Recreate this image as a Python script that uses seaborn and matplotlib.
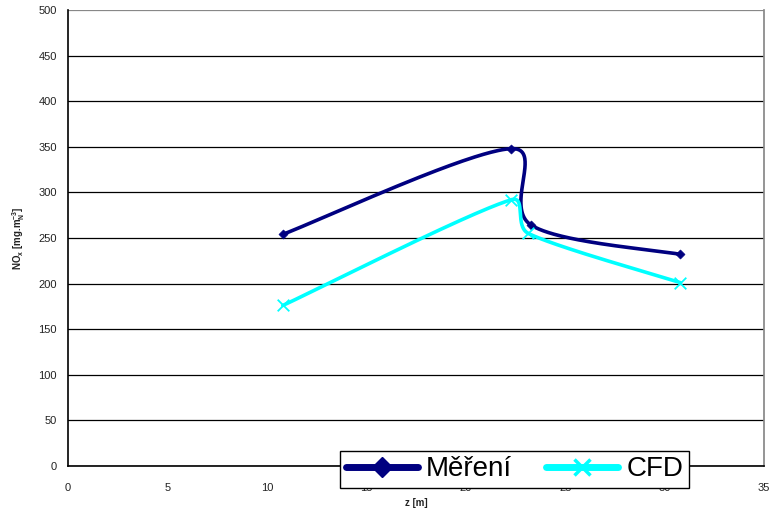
import numpy as np
import pandas as pd
import matplotlib
matplotlib.use("Agg")
import matplotlib.pyplot as plt
import seaborn as sns
from matplotlib.lines import Line2D

# data
z_mereni = [10.8, 22.3, 23.3, 30.8]
nox_mereni = [254, 348, 264, 232]
z_cfd = [10.8, 22.3, 23.15, 30.8]
nox_cfd = [176, 292, 255, 201]
series_names = ["Měření", "CFD"]
x_ticks = [0, 5, 10, 15, 20, 25, 30, 35]
y_ticks = list(range(0, 501, 50))

sns.set_theme(style="white")
plt.rcParams['font.family'] = ['Liberation Sans', 'DejaVu Sans']

fig = plt.figure(figsize=(7.73, 5.21), dpi=100)
ax = fig.add_axes([68/773, 1-466/521, (764-68)/773, (466-10)/521])
ax.set_xlim(0, 35)
ax.set_ylim(0, 500)


def smooth(xs, ys, n=80, k=0.42):
    # smoothed line computed in display space (like Excel smoothed lines)
    pts = ax.transData.transform(np.column_stack([xs, ys]))
    P = np.vstack([pts[0], pts, pts[-1]])
    out = []
    for i in range(1, len(P) - 2):
        p0, p1, p2, p3 = P[i-1], P[i], P[i+1], P[i+2]
        L = np.linalg.norm(p2 - p1)
        a1 = (p2 - p0) / 6
        a2 = (p3 - p1) / 6
        n1 = np.linalg.norm(a1)
        n2 = np.linalg.norm(a2)
        if n1 > L * k:
            a1 = a1 / n1 * L * k
        if n2 > L * k:
            a2 = a2 / n2 * L * k
        c1 = p1 + a1
        c2 = p2 - a2
        t = np.linspace(0, 1, n)[:, None]
        seg = (1-t)**3*p1 + 3*(1-t)**2*t*c1 + 3*(1-t)*t**2*c2 + t**3*p2
        out.append(seg if i == 1 else seg[1:])
    out = np.vstack(out)
    d = ax.transData.inverted().transform(out)
    return d[:, 0], d[:, 1]

for y in y_ticks:
    ax.axhline(y, color="black" if y < 500 else "#888888", lw=0.9, zorder=1)

colors = ["#000080", "#00FFFF"]
data_sets = [(z_mereni, nox_mereni), (z_cfd, nox_cfd)]
for idx, ((xs, ys), c) in enumerate(zip(data_sets, colors)):
    sx, sy = smooth(xs, ys)
    sm = pd.DataFrame({"z": sx, "nox": sy})
    sns.lineplot(data=sm, x="z", y="nox", sort=False, estimator=None, color=c,
                 lw=2.6, ax=ax, zorder=3)
    if idx == 0:
        pts = pd.DataFrame({"z": xs, "nox": ys})
        sns.scatterplot(data=pts, x="z", y="nox", marker="D", s=22, color=c,
                        edgecolor=c, ax=ax, zorder=4)
    else:
        ax.scatter(xs, ys, marker="x", s=70, color=c, linewidths=1.3, zorder=4)

ax.set_xlim(0, 35)
ax.set_ylim(0, 500)
ax.set_xticks(x_ticks)
ax.set_yticks(y_ticks)
ax.tick_params(axis="both", labelsize=8, length=4, width=1, color="black",
               direction="out", pad=4, labelcolor="#222222")
ax.tick_params(axis="x", pad=8)
for s in ["left", "bottom"]:
    ax.spines[s].set_color("black")
    ax.spines[s].set_linewidth(1.2)
ax.spines["right"].set_color("#888888")
ax.spines["top"].set_visible(False)

ax.set_xlabel("z [m]", fontsize=7, fontweight="bold", labelpad=4, color="#222222")
ax.set_ylabel(r"NO$_\mathregular{x}$ [mg.m$_\mathregular{N}^\mathregular{-3}$]",
              fontsize=7, fontweight="bold", labelpad=8, color="#222222")

handles = [
    Line2D([], [], color=colors[0], lw=5, marker="D", markersize=10, solid_capstyle="round"),
    Line2D([], [], color=colors[1], lw=5, marker="x", markersize=12, markeredgewidth=2.5,
           solid_capstyle="round"),
]
leg = fig.legend(handles, series_names, loc="lower left",
                 bbox_to_anchor=(340/773, 1-488/521, (689-340)/773, (488-441)/521),
                 mode="expand", ncol=2, fontsize=20, frameon=True, fancybox=False,
                 edgecolor="black", framealpha=1, handlelength=2.6, handletextpad=0.3,
                 borderpad=0.2, columnspacing=1.2, borderaxespad=0,
                 labelcolor="black")
leg.get_frame().set_linewidth(1.0)

fig.savefig("out.png", dpi=100, facecolor="white")
